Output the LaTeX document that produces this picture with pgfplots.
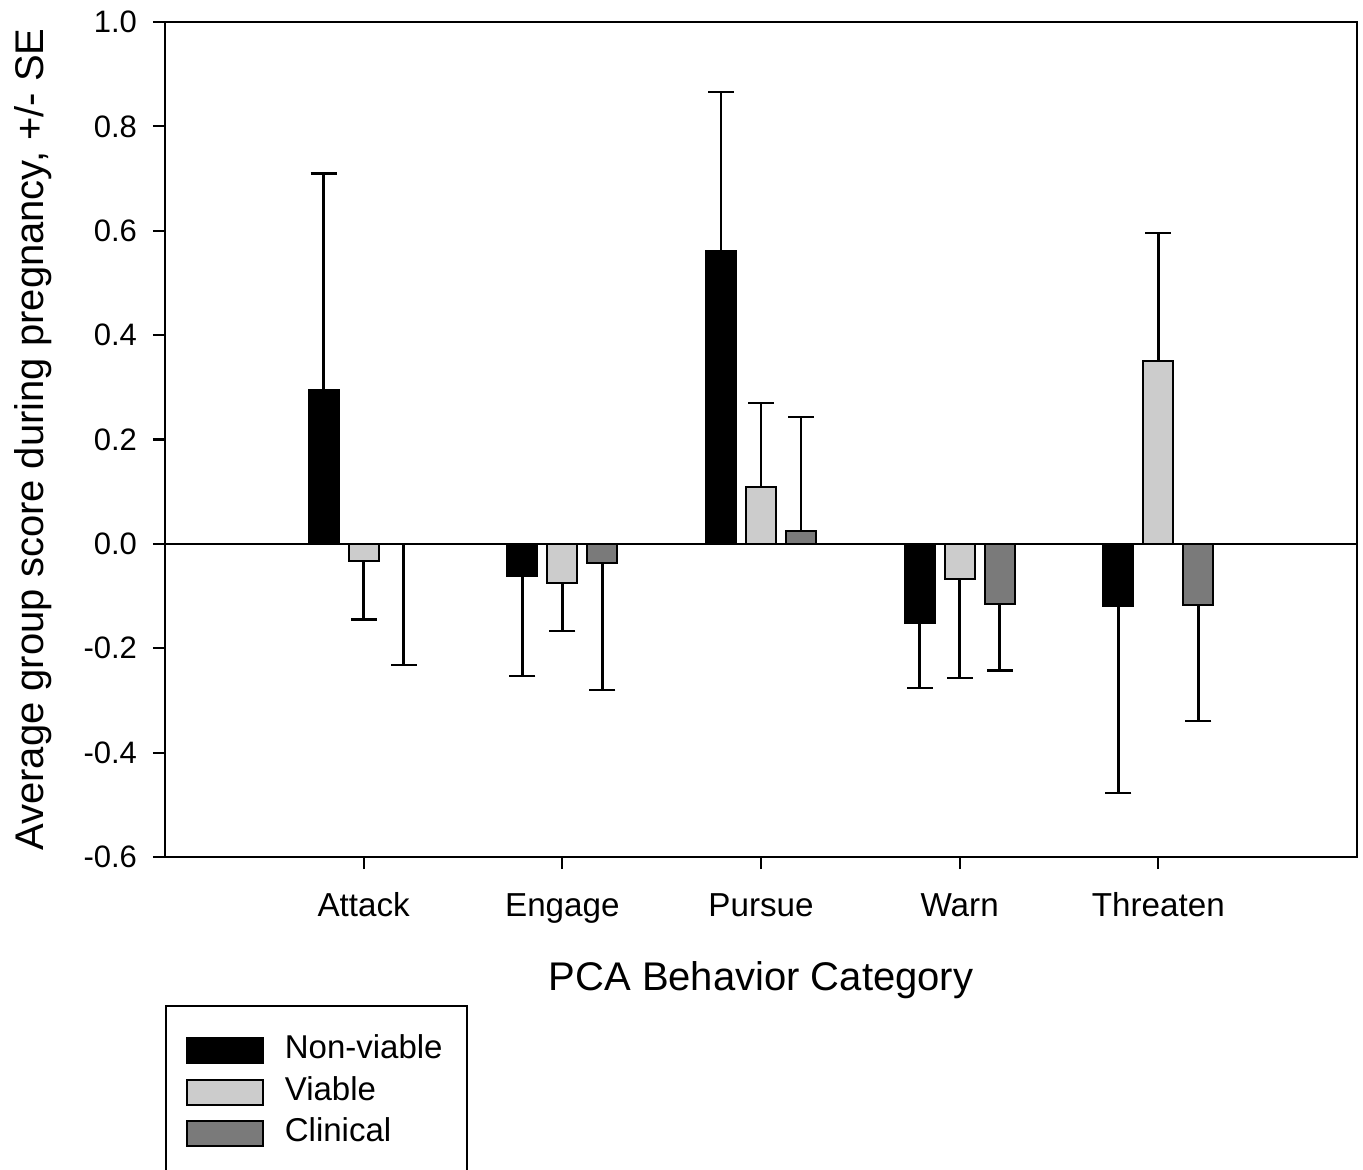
\documentclass[border=0pt]{standalone}
\usepackage{pgfplots}
\pgfplotsset{compat=1.18}
\usepackage{fontspec}
\setmainfont{Liberation Sans}
\definecolor{viable}{RGB}{204,204,204}
\definecolor{clinical}{RGB}{122,122,122}
\pgfplotsset{
  eb/.style={error bars/.cd, y dir=#1, y explicit, error mark=-,
    error bar style={line width=1.3pt, black},
    error mark options={rotate=90, line width=1.3pt, black, mark size=6.5pt}},
}
\begin{document}
\begin{tikzpicture}
\begin{axis}[
  at={(0,0)}, anchor=south west,
  width=596pt, height=417.5pt, scale only axis,
  xmin=0, xmax=6, ymin=-0.6, ymax=1.0,
  axis line style={line width=1.1pt, black},
  xtick={1,2,3,4,5},
  xticklabels={Attack,Engage,Pursue,Warn,Threaten},
  ytick={-0.6,-0.4,-0.2,0,0.2,0.4,0.6,0.8,1.0},
  tick align=outside, xtick pos=lower, ytick pos=left,
  major tick length=6pt,
  tick style={line width=1.1pt, black},
  /pgf/number format/.cd, fixed, fixed zerofill, precision=1, assume math mode=true,
  /pgfplots/.cd,
  yticklabel style={font=\fontsize{15.5}{18}\selectfont, anchor=east, xshift=-4.5pt},
  xticklabel style={font=\fontsize{16.6}{19}\selectfont, anchor=base, yshift=-23.5pt},
  every axis x label/.style={at={(axis description cs:0.5,-0.1593)}, anchor=base, font=\fontsize{20}{24}\selectfont},
  every axis y label/.style={at={(axis description cs:-0.1023,0.5)}, anchor=base, rotate=90, font=\fontsize{20}{24}\selectfont},
  xlabel={PCA Behavior Category},
  ylabel={Average group score during pregnancy, +/- SE},
  ybar, bar width=15pt,
  legend style={at={(axis description cs:0,-0.1772)}, anchor=north west,
    draw=black, line width=1.1pt, inner xsep=10pt, inner ysep=12pt, row sep=0pt,
    font=\fontsize{16.5}{19}\selectfont,
    nodes={inner sep=2.375pt, text height=12pt, text depth=4pt, line width=1pt}},
  legend cell align=left,
  legend image code/.code={\draw[#1, line width=1pt] (0pt,-6.25pt) rectangle (38pt,6.25pt); \path (46pt,0pt);},
]
\addplot[forget plot, sharp plot, black, line width=1pt] coordinates {(0,0) (6,0)};
% Non-viable
\addplot[fill=black, draw=black, line width=1pt, bar shift=-20pt, eb=plus]
  coordinates {(1,0.295) +- (0,0.415) (3,0.561) +- (0,0.305)};
\addlegendentry{Non-viable}
\addplot[forget plot, fill=black, draw=black, line width=1pt, bar shift=-20pt, eb=minus]
  coordinates {(2,-0.061) +- (0,0.192) (4,-0.151) +- (0,0.125) (5,-0.119) +- (0,0.358)};
% Viable
\addplot[fill=viable, draw=black, line width=1pt, bar shift=0pt, eb=plus]
  coordinates {(3,0.109) +- (0,0.161) (5,0.351) +- (0,0.245)};
\addlegendentry{Viable}
\addplot[forget plot, fill=viable, draw=black, line width=1pt, bar shift=0pt, eb=minus]
  coordinates {(1,-0.032) +- (0,0.113) (2,-0.075) +- (0,0.092) (4,-0.067) +- (0,0.19)};
% Clinical
\addplot[fill=clinical, draw=black, line width=1pt, bar shift=20pt, eb=plus]
  coordinates {(3,0.025) +- (0,0.218)};
\addlegendentry{Clinical}
\addplot[forget plot, fill=clinical, draw=black, line width=1pt, bar shift=20pt, eb=minus]
  coordinates {(1,0) +- (0,0.232) (2,-0.036) +- (0,0.244) (4,-0.115) +- (0,0.128) (5,-0.117) +- (0,0.222)};
\end{axis}
\pgfresetboundingbox
\path[use as bounding box] (-82.5pt,-156pt) rectangle (599pt,428.5pt);
\end{tikzpicture}
\end{document}
